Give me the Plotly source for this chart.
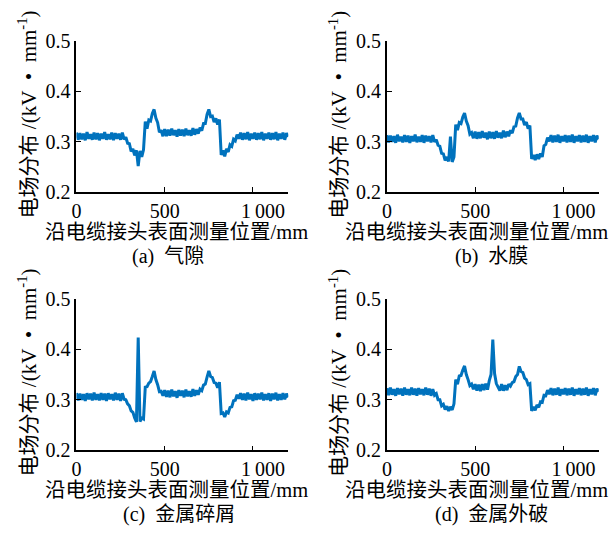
import plotly.graph_objects as go

# Measurement positions along the joint surface (mm)
positions_mm = list(range(0, 1201, 10))

# (a) air gap
field_air_gap = [
    0.318, 0.304, 0.317, 0.305, 0.316, 0.303, 0.319, 0.306, 0.315, 0.304,
    0.318, 0.305, 0.317, 0.303, 0.316, 0.306, 0.319, 0.304, 0.315, 0.305,
    0.318, 0.303, 0.317, 0.306, 0.316, 0.304, 0.318, 0.305,
    0.309, 0.297, 0.296, 0.281, 0.286, 0.273, 0.283, 0.252, 0.282, 0.270,
    0.284, 0.340, 0.326, 0.343, 0.341, 0.356, 0.364, 0.347, 0.338, 0.319,
    0.323, 0.311,
    0.325, 0.311, 0.324, 0.312, 0.326, 0.313, 0.323, 0.310, 0.325, 0.312,
    0.324, 0.311, 0.326, 0.313, 0.323, 0.312, 0.327, 0.314, 0.325, 0.316,
    0.328, 0.322, 0.336, 0.336, 0.354, 0.364, 0.350, 0.351, 0.339, 0.346,
    0.334, 0.344, 0.274, 0.283, 0.271, 0.286, 0.280, 0.294, 0.291, 0.305,
    0.302, 0.314, 0.306,
    0.318, 0.304, 0.317, 0.305, 0.319, 0.303, 0.316, 0.306, 0.318, 0.304,
    0.317, 0.305, 0.319, 0.303, 0.316, 0.306, 0.318, 0.304, 0.317, 0.305,
    0.319, 0.303, 0.316, 0.306, 0.318, 0.304, 0.317, 0.310,
]

# (b) water film
field_water_film = [
    0.313, 0.299, 0.312, 0.300, 0.311, 0.298, 0.314, 0.301, 0.310, 0.299,
    0.313, 0.300, 0.312, 0.298, 0.311, 0.301, 0.314, 0.299, 0.310, 0.300,
    0.313, 0.298, 0.312, 0.301, 0.311, 0.299, 0.313, 0.300,
    0.304, 0.293, 0.291, 0.277, 0.276, 0.263, 0.270, 0.261, 0.310, 0.260,
    0.270, 0.334, 0.323, 0.338, 0.336, 0.349, 0.357, 0.341, 0.332, 0.315,
    0.318, 0.307,
    0.320, 0.306, 0.319, 0.307, 0.321, 0.308, 0.318, 0.305, 0.320, 0.307,
    0.319, 0.306, 0.321, 0.308, 0.318, 0.307, 0.322, 0.309, 0.320, 0.311,
    0.323, 0.317, 0.330, 0.331, 0.347, 0.357, 0.345, 0.345, 0.333, 0.339,
    0.326, 0.332, 0.266, 0.274, 0.264, 0.275, 0.266, 0.277, 0.270, 0.292,
    0.295, 0.308, 0.301,
    0.313, 0.299, 0.312, 0.300, 0.314, 0.298, 0.311, 0.301, 0.313, 0.299,
    0.312, 0.300, 0.314, 0.298, 0.311, 0.301, 0.313, 0.299, 0.312, 0.300,
    0.314, 0.298, 0.311, 0.301, 0.313, 0.299, 0.312, 0.305,
]

# (c) metal debris
field_metal_debris = [
    0.313, 0.299, 0.312, 0.300, 0.311, 0.298, 0.313, 0.301, 0.312, 0.299,
    0.314, 0.300, 0.311, 0.299, 0.313, 0.300, 0.312, 0.298, 0.313, 0.301,
    0.311, 0.299, 0.314, 0.300, 0.312, 0.298, 0.313, 0.301,
    0.300, 0.292, 0.288, 0.278, 0.275, 0.264, 0.256, 0.423, 0.257, 0.264,
    0.262, 0.325, 0.326, 0.333, 0.336, 0.346, 0.357, 0.340, 0.330, 0.316,
    0.317, 0.308,
    0.319, 0.306, 0.318, 0.305, 0.320, 0.307, 0.317, 0.304, 0.319, 0.308,
    0.318, 0.305, 0.320, 0.307, 0.317, 0.306, 0.321, 0.308, 0.319, 0.310,
    0.321, 0.318, 0.329, 0.331, 0.345, 0.357, 0.346, 0.344, 0.334, 0.333,
    0.324, 0.335, 0.273, 0.274, 0.266, 0.276, 0.274, 0.285, 0.286, 0.298,
    0.299, 0.310, 0.302,
    0.313, 0.300, 0.312, 0.299, 0.314, 0.301, 0.311, 0.298, 0.313, 0.300,
    0.312, 0.301, 0.314, 0.299, 0.311, 0.300, 0.313, 0.298, 0.312, 0.301,
    0.314, 0.299, 0.311, 0.300, 0.313, 0.301, 0.312, 0.305,
]

# (d) external metal damage
field_metal_damage = [
    0.323, 0.309, 0.324, 0.310, 0.321, 0.308, 0.323, 0.311, 0.322, 0.308,
    0.324, 0.310, 0.321, 0.309, 0.324, 0.310, 0.322, 0.308, 0.323, 0.311,
    0.321, 0.309, 0.324, 0.310, 0.322, 0.308, 0.321, 0.309,
    0.312, 0.300, 0.300, 0.288, 0.291, 0.281, 0.287, 0.278, 0.286, 0.280,
    0.292, 0.340, 0.331, 0.347, 0.348, 0.359, 0.367, 0.350, 0.340, 0.328,
    0.331, 0.321,
    0.331, 0.318, 0.330, 0.317, 0.331, 0.319, 0.332, 0.320,
    0.338, 0.350, 0.419, 0.352, 0.332,
    0.325, 0.318, 0.331, 0.318, 0.329, 0.319, 0.331,
    0.327, 0.334, 0.336, 0.346, 0.350, 0.366, 0.356, 0.354, 0.343, 0.340,
    0.330, 0.332, 0.278, 0.286, 0.279, 0.290, 0.285, 0.296, 0.295, 0.309,
    0.308, 0.319, 0.311,
    0.323, 0.309, 0.322, 0.310, 0.324, 0.308, 0.321, 0.311, 0.323, 0.309,
    0.322, 0.310, 0.324, 0.308, 0.321, 0.311, 0.323, 0.309, 0.322, 0.310,
    0.324, 0.308, 0.321, 0.311, 0.323, 0.309, 0.322, 0.316,
]

series = [field_air_gap, field_water_film, field_metal_debris, field_metal_damage]
captions = ["(a)  气隙", "(b)  水膜", "(c)  金属碎屑", "(d)  金属外破"]
x_ticks = [0, 500, 1000]
x_tick_text = ["0", "500", "\u00a0\u00a0\u00a0\u00a01\u2009000"]
y_ticks = [0.2, 0.3, 0.4, 0.5]
y_tick_text = ["0.2", "0.3", "0.4", "0.5"]
x_title = "沿电缆接头表面测量位置/mm"
y_title = "电场分布\u00a0/(kV\u00a0\u00a0•\u00a0\u00a0mm<sup>-1</sup>)"

W, H = 616, 539
FONT = "Liberation Serif, Noto Sans CJK SC, serif"
LINE = "#0072BD"

# pixel layout of each panel: (x0, x1, ytop, ybottom)
panels = [
    (72, 285.6, 31, 189),
    (385, 598.6, 31, 189),
    (72, 285.6, 300, 458),
    (385, 598.6, 300, 458),
]
xtitle_cx = [173, 475, 173, 475]
caption_cx = [164, 490, 175, 490]

fig = go.Figure()
layout = dict(
    width=W, height=H, margin=dict(l=0, r=0, t=0, b=0),
    paper_bgcolor="white", plot_bgcolor="white",
    showlegend=False, font=dict(family=FONT, size=20, color="black"),
)
annotations = []
for i, (vals, cap, (x0, x1, yt, yb)) in enumerate(zip(series, captions, panels)):
    n = "" if i == 0 else str(i + 1)
    fig.add_trace(go.Scatter(
        x=positions_mm, y=vals, mode="lines",
        line=dict(color=LINE, width=3, simplify=False),
        xaxis="x" + n, yaxis="y" + n,
    ))
    common = dict(
        showline=True, linecolor="black", linewidth=1.6,
        ticks="inside", ticklen=5, tickwidth=1.2, tickcolor="black",
        showgrid=False, zeroline=False,
        tickfont=dict(family=FONT, size=20, color="black"),
    )
    layout["xaxis" + n] = dict(
        domain=[x0 / W, x1 / W], anchor="y" + n, range=[0, 1200],
        tickmode="array", tickvals=x_ticks, ticktext=x_tick_text, **common,
    )
    layout["yaxis" + n] = dict(
        domain=[1 - yb / H, 1 - yt / H], anchor="x" + n, range=[0.2, 0.5],
        tickmode="array", tickvals=y_ticks, ticktext=y_tick_text, **common,
    )
    annotations.append(dict(
        text=y_title, textangle=-90, xref="paper", yref="paper",
        x=(x0 - 49) / W, y=1 - (yt + 77) / H,
        showarrow=False, xanchor="center", yanchor="middle",
        font=dict(family=FONT, size=21, color="black"),
    ))
    annotations.append(dict(
        text=x_title, xref="paper", yref="paper",
        x=xtitle_cx[i] / W, y=1 - (yb + 41) / H,
        showarrow=False, xanchor="center", yanchor="middle",
        font=dict(family=FONT, size=20.5, color="black"),
    ))
    annotations.append(dict(
        text=cap, xref="paper", yref="paper",
        x=caption_cx[i] / W, y=1 - (yb + 67) / H,
        showarrow=False, xanchor="center", yanchor="middle",
        font=dict(family=FONT, size=20, color="black"),
    ))
layout["annotations"] = annotations
fig.update_layout(**layout)
fig.write_html("out.html")
